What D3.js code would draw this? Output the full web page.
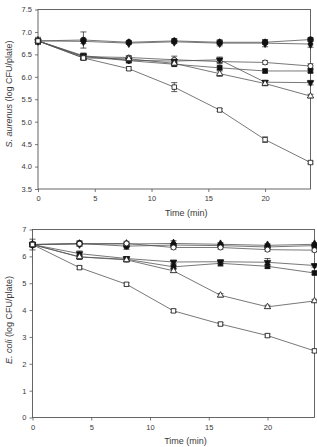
<!DOCTYPE html>
<html>
<head>
<meta charset="utf-8">
<script src="https://cdn.jsdelivr.net/npm/d3@7"></script>
<style>
	body { margin: 0; background: #fff; }
	svg { display: block; font-family: "Liberation Sans", Arial, sans-serif; }
</style>
</head>
<body>
<div id="chart"></div>
<script>
// ----------------------------------
// DATA
// ----------------------------------

const times = [0, 4, 8, 12, 16, 20, 24];
const xTicks = [0, 5, 10, 15, 20];

// marker order (SigmaPlot style)
const seriesNames = ['filledCircle', 'filledDiamond', 'openCircle', 'filledSquare', 'filledTriangleDown', 'openTriangleUp', 'openSquare'];

// S. aureus panel
const aureusFilledCircle = [6.80, 6.82, 6.77, 6.80, 6.77, 6.77, 6.83];
const aureusFilledDiamond = [6.80, 6.79, 6.75, 6.78, 6.75, 6.75, 6.73];
const aureusOpenCircle = [6.80, 6.45, 6.43, 6.38, 6.34, 6.32, 6.24];
const aureusFilledSquare = [6.80, 6.45, 6.36, 6.28, 6.20, 6.13, 6.13];
const aureusFilledTriangle = [6.80, 6.47, 6.37, 6.35, 6.38, 5.88, 5.87];
const aureusOpenTriangle = [6.80, 6.42, 6.40, 6.30, 6.07, 5.85, 5.57];
const aureusOpenSquare = [6.80, 6.42, 6.18, 5.77, 5.26, 4.60, 4.09];

const aureusErr = [
	[0.08, 0.18, 0.03, 0.05, 0.05, 0.05, 0.04],
	[0.05, 0.05, 0.03, 0.04, 0.06, 0.08, 0.07],
	[0.05, 0.05, 0.04, 0.08, 0.05, 0.04, 0.05],
	[0.05, 0.06, 0.05, 0.04, 0.04, 0.04, 0.04],
	[0.05, 0.06, 0.04, 0.03, 0.06, 0.04, 0.05],
	[0.05, 0.05, 0.05, 0.05, 0.06, 0.05, 0.04],
	[0.05, 0.04, 0.04, 0.10, 0.03, 0.06, 0.03]
];
const aureusTicks = [3.5, 4.0, 4.5, 5.0, 5.5, 6.0, 6.5, 7.0, 7.5];

// E. coli panel
const coliFilledCircle = [6.44, 6.48, 6.38, 6.42, 6.40, 6.35, 6.40];
const coliFilledDiamond = [6.44, 6.46, 6.46, 6.48, 6.45, 6.41, 6.45];
const coliOpenCircle = [6.44, 6.47, 6.48, 6.33, 6.33, 6.25, 6.23];
const coliFilledSquare = [6.44, 5.98, 5.89, 5.61, 5.74, 5.63, 5.38];
const coliFilledTriangle = [6.44, 6.10, 5.92, 5.79, 5.80, 5.78, 5.66];
const coliOpenTriangle = [6.44, 5.98, 5.87, 5.46, 4.55, 4.12, 4.34];
const coliOpenSquare = [6.44, 5.58, 4.96, 3.97, 3.48, 3.05, 2.48];

const coliErr = [
	[0.20, 0.10, 0.12, 0.06, 0.06, 0.08, 0.06],
	[0.08, 0.08, 0.06, 0.10, 0.06, 0.06, 0.06],
	[0.08, 0.06, 0.08, 0.06, 0.06, 0.06, 0.06],
	[0.08, 0.08, 0.10, 0.06, 0.10, 0.08, 0.06],
	[0.08, 0.10, 0.06, 0.06, 0.06, 0.14, 0.06],
	[0.08, 0.06, 0.06, 0.06, 0.06, 0.06, 0.06],
	[0.08, 0.06, 0.06, 0.06, 0.06, 0.06, 0.06]
];
const coliTicks = [0, 1, 2, 3, 4, 5, 6, 7];

// ----------------------------------
// SETUP
// ----------------------------------

const width = 317, height = 447;
const ink = '#3a3a3a';

const svg = d3.select('#chart')
	.append('svg')
	.attr('width', width)
	.attr('height', height);

const symbolFor = {
	filledCircle: { type: d3.symbolCircle, fill: '#111', rot: 0, size: 26 },
	filledDiamond: { type: d3.symbolDiamond, fill: '#111', rot: 0, size: 22 },
	openCircle: { type: d3.symbolCircle, fill: '#fff', rot: 0, size: 20 },
	filledSquare: { type: d3.symbolSquare, fill: '#111', rot: 0, size: 22 },
	filledTriangleDown: { type: d3.symbolTriangle, fill: '#111', rot: 180, size: 18 },
	openTriangleUp: { type: d3.symbolTriangle, fill: '#fff', rot: 0, size: 17 },
	openSquare: { type: d3.symbolSquare, fill: '#fff', rot: 0, size: 20 }
};

function drawPanel(opts){
	const x = d3.scaleLinear().domain([0, 24]).range([opts.left, opts.right]);
	const y = d3.scaleLinear().domain(opts.yDomain).range([opts.bottom, opts.top]);

	const g = svg.append('g');

	// frame
	g.append('rect')
		.attr('x', opts.left)
		.attr('y', opts.top)
		.attr('width', opts.right - opts.left)
		.attr('height', opts.bottom - opts.top)
		.attr('fill', 'none')
		.attr('stroke', '#555')
		.attr('stroke-width', 0.9);

	// axes
	const xAxis = d3.axisBottom(x).tickValues(xTicks).tickSize(3).tickPadding(4);
	const yAxis = d3.axisLeft(y).tickValues(opts.yTicks).tickSize(3).tickPadding(3)
		.tickFormat(opts.yFormat);

	g.append('g')
		.attr('transform', `translate(0,${ opts.bottom })`)
		.call(xAxis)
		.call(a => a.select('.domain').remove());

	g.append('g')
		.attr('transform', `translate(${ opts.left },0)`)
		.call(yAxis)
		.call(a => a.select('.domain').remove());

	g.selectAll('.tick line').attr('stroke', '#555').attr('stroke-width', 0.8);
	g.selectAll('.tick text')
		.attr('fill', ink)
		.style('font-size', '7.5px');

	// axis titles
	g.append('text')
		.attr('x', (opts.left + opts.right) / 2 + 12)
		.attr('y', opts.xTitleY)
		.attr('text-anchor', 'middle')
		.attr('fill', ink)
		.style('font-size', '9px')
		.text('Time (min)');

	const yt = g.append('text')
		.attr('transform', `translate(${ opts.yTitleX },${ opts.yTitleY }) rotate(-90)`)
		.attr('text-anchor', 'middle')
		.attr('fill', ink)
		.style('font-size', '9px');
	yt.append('tspan').style('font-style', 'italic').text(opts.organism);
	yt.append('tspan').text(' (log CFU/plate)');

	// ----------------------------------
	// Add the data
	// ----------------------------------

	const line = d3.line()
		.x((d, i) => x(times[i]))
		.y(d => y(d));

	g.selectAll('.series-line')
		.data(opts.series)
		.enter()
		.append('path')
		.attr('class', 'series-line')
		.attr('d', d => line(d.values))
		.attr('fill', 'none')
		.attr('stroke', '#555')
		.attr('stroke-width', 0.8);

	const s = g.selectAll('.series')
		.data(opts.series)
		.enter()
		.append('g')
		.attr('class', 'series');

	// error bars
	s.each(function(d){
		const sg = d3.select(this);
		d.values.forEach((v, i) => {
			const e = d.err[i];
			const cx = x(times[i]);
			const y0 = y(v + e), y1 = y(v - e);
			sg.append('line').attr('x1', cx).attr('x2', cx).attr('y1', y0).attr('y2', y1)
				.attr('stroke', '#333').attr('stroke-width', 0.8);
			sg.append('line').attr('x1', cx - 3).attr('x2', cx + 3).attr('y1', y0).attr('y2', y0)
				.attr('stroke', '#333').attr('stroke-width', 0.8);
			sg.append('line').attr('x1', cx - 3).attr('x2', cx + 3).attr('y1', y1).attr('y2', y1)
				.attr('stroke', '#333').attr('stroke-width', 0.8);
		});
	});

	// markers
	s.selectAll('path.marker')
		.data(d => d.values.map((v, i) => ({ v: v, t: times[i], kind: d.kind })))
		.enter()
		.append('path')
		.attr('class', 'marker')
		.attr('d', d => d3.symbol().type(symbolFor[d.kind].type).size(symbolFor[d.kind].size)())
		.attr('transform', d => `translate(${ x(d.t) },${ y(d.v) }) rotate(${ symbolFor[d.kind].rot })`)
		.attr('fill', d => symbolFor[d.kind].fill)
		.attr('stroke', '#111')
		.attr('stroke-width', 0.8);
}

const aureusValues = [aureusFilledCircle, aureusFilledDiamond, aureusOpenCircle, aureusFilledSquare,
	aureusFilledTriangle, aureusOpenTriangle, aureusOpenSquare];
const coliValues = [coliFilledCircle, coliFilledDiamond, coliOpenCircle, coliFilledSquare,
	coliFilledTriangle, coliOpenTriangle, coliOpenSquare];

drawPanel({
	left: 38, right: 310.5, top: 9.5, bottom: 189,
	yDomain: [3.5, 7.5], yTicks: aureusTicks, yFormat: d3.format('.1f'),
	xTitleY: 216, yTitleX: 12, yTitleY: 94,
	organism: 'S. aurenus',
	series: seriesNames.map((k, i) => ({ kind: k, values: aureusValues[i], err: aureusErr[i] }))
});

drawPanel({
	left: 32.5, right: 314.5, top: 229.5, bottom: 417.5,
	yDomain: [0, 7], yTicks: coliTicks, yFormat: d3.format('d'),
	xTitleY: 444, yTitleX: 12, yTitleY: 320,
	organism: 'E. coli',
	series: seriesNames.map((k, i) => ({ kind: k, values: coliValues[i], err: coliErr[i] }))
});
</script>
</body>
</html>
